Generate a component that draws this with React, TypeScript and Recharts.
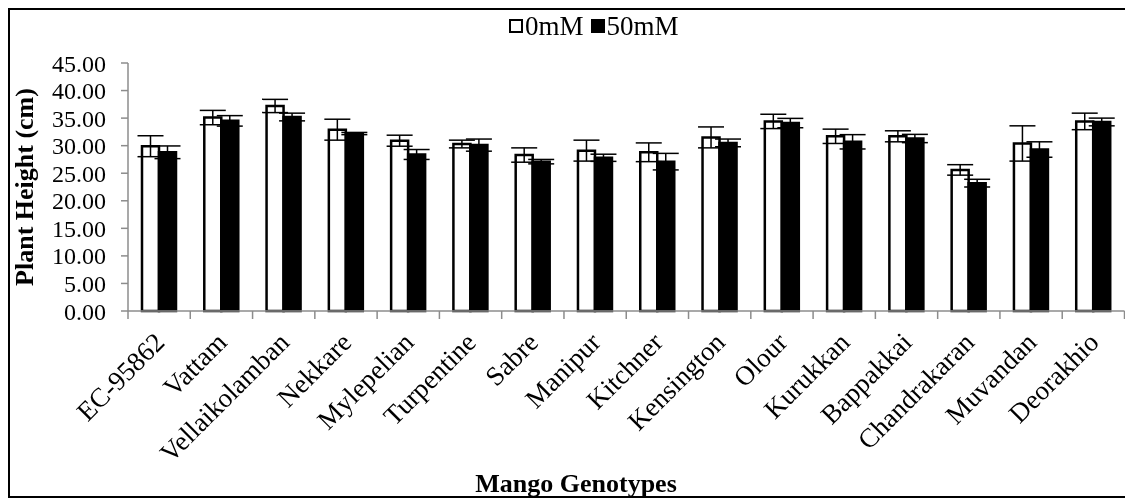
import { useLayoutEffect } from "react";
import { BarChart, Bar, XAxis, YAxis, ErrorBar, Legend, Label } from "recharts";

const genotypes = [
  "EC-95862", "Vattam", "Vellaikolamban", "Nekkare", "Mylepelian", "Turpentine",
  "Sabre", "Manipur", "Kitchner", "Kensington", "Olour", "Kurukkan",
  "Bappakkai", "Chandrakaran", "Muvandan", "Deorakhio",
];
const mM0 = [29.9, 35.1, 37.2, 32.9, 30.9, 30.3, 28.3, 29.1, 28.8, 31.5, 34.4, 31.7, 31.7, 25.6, 30.4, 34.4];
const err0 = [1.9, 1.3, 1.2, 1.9, 1.0, 0.7, 1.3, 1.9, 1.7, 1.9, 1.3, 1.3, 1.0, 0.95, 3.2, 1.5];
const mM50 = [28.8, 34.5, 35.2, 32.2, 28.4, 30.1, 27.1, 27.8, 27.1, 30.5, 34.1, 30.7, 31.3, 23.2, 29.3, 34.3];
const err50 = [1.15, 0.95, 0.7, 0.2, 0.9, 1.1, 0.4, 0.65, 1.5, 0.7, 0.85, 1.3, 0.75, 0.7, 1.4, 0.7];
const yTicks = [0, 5, 10, 15, 20, 25, 30, 35, 40, 45];

const data = genotypes.map((g, i) => ({
  name: g,
  a: mM0[i],
  ea: err0[i],
  b: mM50[i],
  eb: err50[i],
}));

// chart runs past the right edge of the window, like the cropped original
const W = 1140;
const H = 490;
const YW = 120;
const MR = 23.5;
const FONT = "'Liberation Serif', 'Times New Roman', serif";
const BAND = (W - YW - MR) / genotypes.length;

function CatTick(props: any) {
  const { x, y, payload, index } = props;
  const left = x - BAND / 2;
  const tx = x + 7;
  const ty = y + 33;
  return (
    <g>
      <line x1={left} y1={y} x2={left} y2={y + 8} stroke="#8c8c8c" strokeWidth={1.5} />
      {index === genotypes.length - 1 && (
        <line x1={x + BAND / 2} y1={y} x2={x + BAND / 2} y2={y + 8} stroke="#8c8c8c" strokeWidth={1.5} />
      )}
      <text
        x={tx}
        y={ty}
        transform={`rotate(-45 ${tx} ${ty})`}
        textAnchor="end"
        fontFamily={FONT}
        fontSize={27}
        fill="#000"
      >
        {payload.value}
      </text>
    </g>
  );
}

function LegendBox() {
  const item = (fill: string, text: string) => (
    <span style={{ display: "inline-flex", alignItems: "center", marginRight: 7 }}>
      <span
        style={{
          display: "inline-block",
          width: 10,
          height: 10,
          background: fill,
          border: "2px solid #000",
          marginRight: 2,
        }}
      />
      {text}
    </span>
  );
  return (
    <div style={{ fontFamily: FONT, fontSize: 27, color: "#000", lineHeight: "30px", whiteSpace: "nowrap" }}>
      {item("#fff", "0mM")}
      {item("#000", "50mM")}
    </div>
  );
}

export default function App() {
  useLayoutEffect(() => {
    document.documentElement.style.overflow = "hidden";
  }, []);
  return (
    <div style={{ position: "fixed", left: 8, top: 8, width: W, height: H }}>
      <div
        style={{
          position: "absolute",
          left: 0,
          top: 0,
          width: W + 20,
          height: H,
          borderLeft: "2px solid #000",
          borderTop: "2px solid #000",
          borderBottom: "2px solid #000",
          boxSizing: "border-box",
        }}
      />
      <BarChart
        width={W}
        height={H}
        data={data}
        margin={{ top: 55, right: MR, left: 0, bottom: 0 }}
        barSize={17}
        barGap={0}
      >
        <Legend
          layout="horizontal"
          verticalAlign="middle"
          align="center"
          content={() => <LegendBox />}
          wrapperStyle={{ top: 1, left: 501, width: "auto" }}
        />
        <YAxis
          width={YW}
          domain={[0, 45]}
          ticks={yTicks}
          interval={0}
          tickFormatter={(v: number) => v.toFixed(2)}
          tick={{ fontFamily: FONT, fontSize: 24, fill: "#000" }}
          tickSize={7}
          tickMargin={15}
          stroke="#8c8c8c"
          strokeWidth={1.5}
        >
          <Label
            content={({ viewBox }: any) => {
              const cy = viewBox.y + viewBox.height / 2;
              return (
                <text
                  x={16}
                  y={cy}
                  transform={`rotate(-90 16 ${cy})`}
                  textAnchor="middle"
                  dominantBaseline="central"
                  fontFamily={FONT}
                  fontSize={26}
                  fontWeight="bold"
                  fill="#000"
                >
                  Plant Height (cm)
                </text>
              );
            }}
          />
        </YAxis>
        <XAxis
          dataKey="name"
          height={187}
          interval={0}
          tickSize={0}
          tickMargin={0}
          tick={<CatTick />}
          stroke="#8c8c8c"
          strokeWidth={1.5}
        >
          <Label
            content={({ viewBox }: any) => (
              <text
                x={568}
                y={viewBox.y + 181}
                textAnchor="middle"
                fontFamily={FONT}
                fontSize={26}
                fontWeight="bold"
                fill="#000"
              >
                Mango Genotypes
              </text>
            )}
          />
        </XAxis>
        <Bar dataKey="a" name="0mM" fill="#fff" stroke="#000" strokeWidth={2.5} isAnimationActive={false}>
          <ErrorBar dataKey="ea" width={13} stroke="#000" strokeWidth={1.5} direction="y" />
        </Bar>
        <Bar dataKey="b" name="50mM" fill="#000" stroke="#000" strokeWidth={2.5} isAnimationActive={false}>
          <ErrorBar dataKey="eb" width={13} stroke="#000" strokeWidth={1.5} direction="y" />
        </Bar>
      </BarChart>
    </div>
  );
}
